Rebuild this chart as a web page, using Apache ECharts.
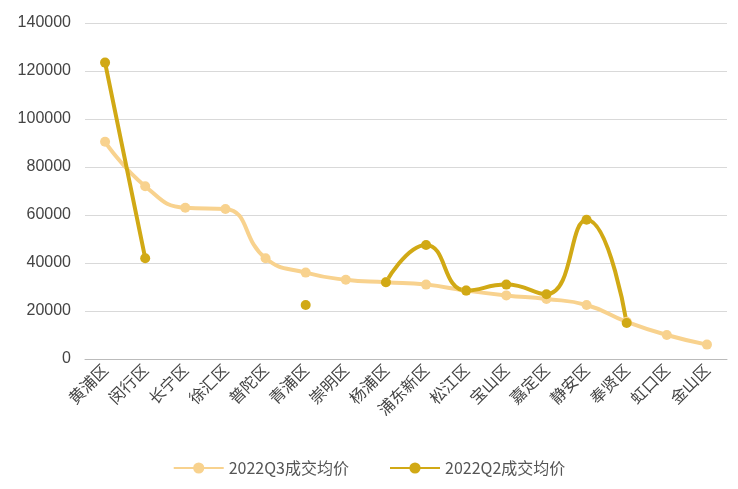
<!DOCTYPE html>
<html><head><meta charset="utf-8">
<script src="https://cdn.jsdelivr.net/npm/echarts@6/dist/echarts.min.js"></script>
<style>html,body{margin:0;background:#fff}#c{width:738px;height:489px}</style>
</head><body><div id="c"></div>
<script>
const categories=['黄浦区','闵行区','长宁区','徐汇区','普陀区','青浦区','崇明区','杨浦区','浦东新区','松江区','宝山区','嘉定区','静安区','奉贤区','虹口区','金山区'];
const q3=[90500,72000,63000,62500,42000,36000,33000,32000,31000,28500,26500,25000,22500,15500,10000,6000];
const q2=[123500,42000,null,null,null,22500,null,32000,47500,28500,31000,27000,58000,15000,null,null];
const yTicks=[0,20000,40000,60000,80000,100000,120000,140000];
const ch=echarts.init(document.getElementById('c'));
ch.setOption({
  animation:false,
  grid:{left:85,right:11,top:23,bottom:130},
  legend:{bottom:8,itemGap:40,itemWidth:50,textStyle:{fontSize:16,color:'#555',fontFamily:'Noto Sans CJK SC'},data:['2022Q3成交均价','2022Q2成交均价']},
  xAxis:{type:'category',data:categories,axisTick:{show:false},axisLine:{lineStyle:{color:'#bbb'}},
    axisLabel:{rotate:45,fontSize:16,color:'#444',fontFamily:'Noto Sans CJK SC',interval:0,margin:8}},
  yAxis:{type:'value',min:yTicks[0],max:yTicks[yTicks.length-1],interval:20000,
    axisLabel:{fontSize:16,color:'#444',margin:14,formatter:v=>String(v)},splitLine:{lineStyle:{color:'#d9d9d9'}}},
  series:[
    {name:'2022Q3成交均价',type:'line',smooth:0.5,data:q3,symbol:'circle',symbolSize:10,
      itemStyle:{color:'#F8D28E'},lineStyle:{width:4,color:'#F8D28E'}},
    {name:'2022Q2成交均价',type:'line',smooth:0.5,data:q2,connectNulls:false,symbol:'circle',symbolSize:10,
      itemStyle:{color:'#D1A915'},lineStyle:{width:4,color:'#D1A915'}}
  ]
});
</script></body></html>
